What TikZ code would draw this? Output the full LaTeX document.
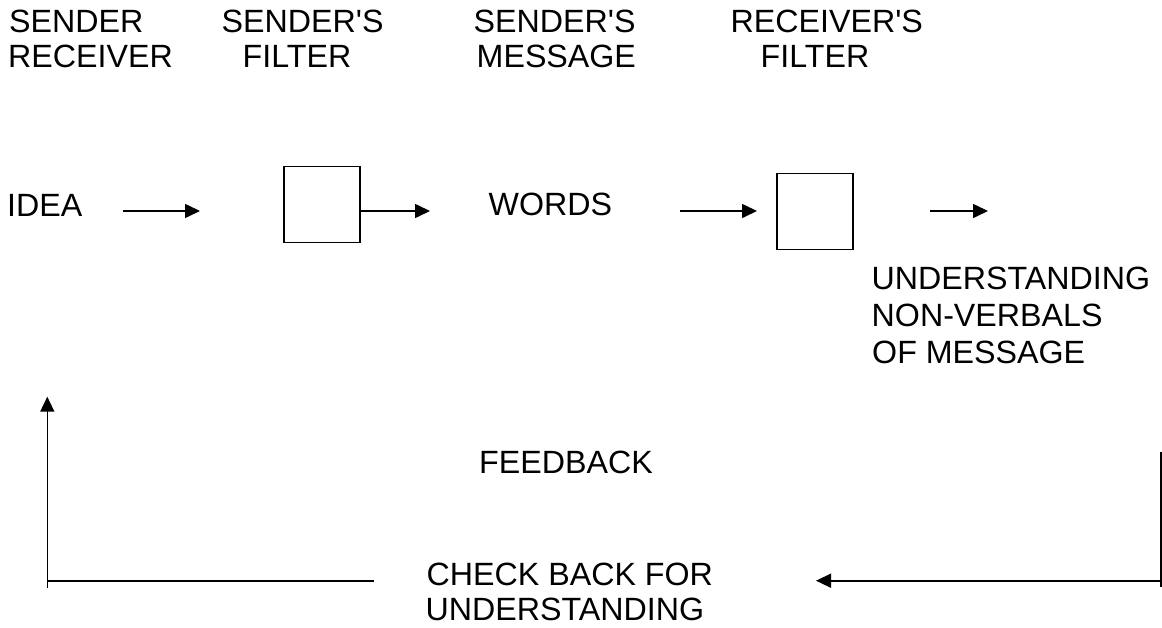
\documentclass[tikz,border=0pt]{standalone}
\usepackage{fontspec}
\setmainfont{Liberation Sans}
\usetikzlibrary{arrows.meta}
\begin{document}
\begin{tikzpicture}[x=1pt,y=-1pt,
  lbl/.style={anchor=base west,inner sep=0pt,font=\fontsize{32.2}{37}\selectfont},
  filt/.style={draw,line width=1.4pt,minimum size=76pt,inner sep=0pt},
  conn/.style={line width=1.6pt,-{Triangle[length=15pt,width=14pt]}},
  plainline/.style={line width=1.6pt}]
\useasboundingbox (0,0) rectangle (1162,628);
% header labels
\node[lbl] (t1a) at (9,32.5) {SENDER};
\node[lbl] (t1b) at (8,68) {RECEIVER};
\node[lbl] (t2a) at (221.5,32.5) {SENDER\textquotesingle S};
\node[lbl] (t2b) at (242.5,68) {FILTER};
\node[lbl] (t3a) at (473.5,32.5) {SENDER\textquotesingle S};
\node[lbl] (t3b) at (476.5,68) {MESSAGE};
\node[lbl] (t4a) at (730.5,32.5) {RECEIVER\textquotesingle S};
\node[lbl] (t4b) at (760.5,68) {FILTER};
% main row
\node[lbl] (idea) at (7,216.5) {IDEA};
\node[filt] (sf) at (322,204.7) {};
\node[lbl] (words) at (488.5,215.5) {WORDS};
\node[filt] (rf) at (815,211.5) {};
\node[lbl] (u1) at (871.5,289.3) {UNDERSTANDING};
\node[lbl] (u2) at (871.5,326.3) {NON-VERBALS};
\node[lbl] (u3) at (872,363) {OF MESSAGE};
\node[lbl] (fb) at (479,473.3) {FEEDBACK};
\node[lbl] (cb1) at (426.5,585.7) {CHECK BACK FOR};
\node[lbl] (cb2) at (425.5,620.5) {UNDERSTANDING};
% arrows of main row
\coordinate (a1s) at (123,211);
\coordinate (a1e) at (200,211);
\draw[conn] (a1s) -- (a1e);
\coordinate (a2e) at (430,211);
\draw[conn] (sf.east |- a2e) -- (a2e);
\coordinate (a3s) at (680,211);
\coordinate (a3e) at (757,211);
\draw[conn] (a3s) -- (a3e);
\coordinate (a4s) at (930,211);
\coordinate (a4e) at (988,211);
\draw[conn] (a4s) -- (a4e);
% feedback loop
\coordinate (r1) at (1160.7,451.7);
\coordinate (r2) at (1160.7,586.7);
\draw[plainline] (r1) -- (r2);
\coordinate (rc) at (1160.7,580.7);
\coordinate (rt) at (816,580.7);
\draw[conn] (rc) -- (rt);
\coordinate (lh) at (374,580.7);
\coordinate (lc) at (47.3,580.7);
\draw[plainline] (lh) -- (lc);
\coordinate (lb) at (47.3,588.3);
\coordinate (lt) at (47.3,396.7);
\draw[conn] (lb) -- (lt);
\end{tikzpicture}
\end{document}
